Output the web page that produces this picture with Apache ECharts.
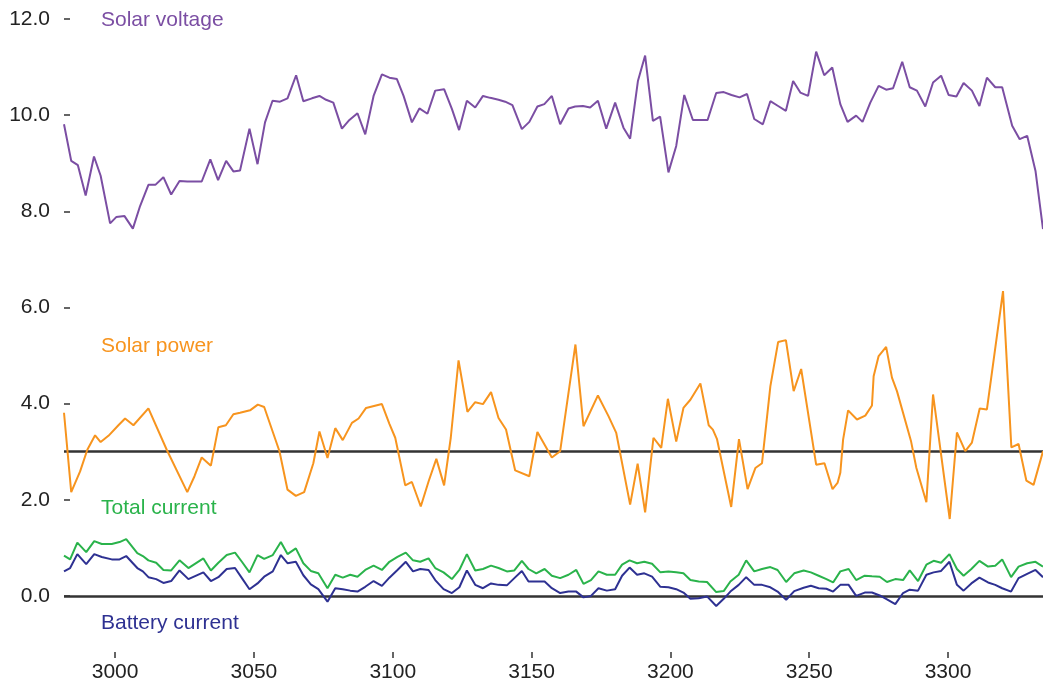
<!DOCTYPE html>
<html><head><meta charset="utf-8">
<script src="https://cdn.jsdelivr.net/npm/echarts@6.0.0/dist/echarts.min.js"></script>
<style>html,body{margin:0;padding:0;background:#fff}#c{width:1043px;height:684px}</style>
</head><body><div id="c"></div>
<script>
const voltageX = [2981.6,2984.2,2986.6,2989.4,2992.4,2994.8,2998.2,3000.4,3003.4,3006.4,3009.0,3012.0,3014.5,3017.4,3020.2,3023.2,3026.0,3028.6,3031.2,3034.3,3037.1,3040.0,3042.6,3045.0,3048.4,3051.3,3054.0,3056.7,3059.4,3062.1,3065.2,3067.8,3070.9,3073.6,3076.0,3078.6,3081.7,3084.4,3087.3,3090.1,3093.1,3096.1,3098.8,3101.5,3103.9,3106.9,3109.6,3112.5,3115.3,3118.5,3121.3,3123.9,3126.7,3129.7,3132.5,3135.1,3138.1,3140.5,3143.1,3146.5,3149.2,3152.1,3154.6,3157.3,3160.3,3163.3,3165.7,3168.5,3171.1,3173.9,3176.9,3180.1,3183.1,3185.5,3188.3,3190.9,3193.7,3196.3,3199.3,3202.1,3205.0,3208.1,3210.7,3213.4,3216.5,3219.2,3222.0,3224.9,3227.6,3230.2,3233.3,3236.0,3238.8,3241.6,3244.2,3246.8,3249.6,3252.5,3255.4,3258.3,3261.2,3263.8,3266.9,3269.2,3272.0,3275.0,3277.7,3280.2,3283.5,3286.2,3288.8,3291.8,3294.6,3297.5,3300.2,3303.0,3305.6,3308.6,3311.3,3314.0,3317.0,3319.5,3323.1,3325.8,3328.5,3331.5,3334.2];
const voltageY = [9.81,9.05,8.96,8.33,9.14,8.74,7.75,7.88,7.90,7.64,8.11,8.55,8.55,8.71,8.35,8.63,8.62,8.62,8.62,9.08,8.65,9.05,8.83,8.85,9.72,8.98,9.85,10.30,10.28,10.35,10.83,10.29,10.35,10.40,10.32,10.26,9.72,9.90,10.04,9.60,10.40,10.85,10.78,10.75,10.40,9.85,10.14,10.03,10.51,10.54,10.13,9.69,10.30,10.16,10.40,10.36,10.32,10.28,10.21,9.71,9.86,10.18,10.23,10.40,9.81,10.14,10.18,10.19,10.16,10.30,9.72,10.26,9.74,9.51,10.71,11.24,9.88,9.97,8.81,9.36,10.42,9.90,9.90,9.90,10.46,10.48,10.42,10.37,10.44,9.92,9.81,10.29,10.19,10.09,10.71,10.47,10.40,11.32,10.83,10.99,10.23,9.86,9.99,9.86,10.26,10.61,10.53,10.56,11.11,10.58,10.51,10.18,10.68,10.82,10.42,10.39,10.67,10.51,10.19,10.78,10.58,10.58,9.78,9.50,9.57,8.84,7.63];

const powerX = [2981.6,2984.2,2987.4,2990.0,2992.8,2994.8,2997.6,3001.2,3003.6,3006.6,3012.0,3018.6,3026.0,3028.6,3031.2,3034.5,3037.2,3039.9,3042.6,3045.0,3048.6,3051.4,3053.7,3059.2,3062.1,3065.1,3068.1,3071.4,3073.6,3076.5,3079.3,3082.0,3085.3,3087.7,3090.4,3096.1,3098.8,3100.9,3104.5,3106.9,3110.1,3112.9,3115.7,3118.5,3120.9,3123.7,3126.9,3129.7,3132.5,3135.4,3138.1,3140.8,3144.1,3149.2,3152.1,3157.3,3160.3,3165.8,3168.7,3173.9,3177.7,3180.5,3185.5,3188.2,3190.9,3193.9,3196.7,3199.1,3202.1,3204.7,3207.2,3210.8,3213.8,3215.3,3216.8,3221.9,3224.7,3227.8,3230.6,3233.0,3236.0,3238.8,3241.6,3244.4,3247.1,3252.5,3255.5,3258.4,3260.2,3261.2,3262.2,3264.0,3267.2,3270.2,3272.6,3273.2,3275.0,3277.7,3279.8,3281.6,3286.7,3288.6,3292.2,3294.6,3300.6,3303.2,3306.2,3308.6,3311.4,3314.0,3319.8,3322.8,3325.4,3328.2,3330.8,3334.2];
const powerY = [3.81,2.16,2.59,3.04,3.34,3.20,3.33,3.55,3.69,3.55,3.90,3.04,2.16,2.49,2.88,2.71,3.51,3.55,3.78,3.81,3.86,3.98,3.93,3.01,2.21,2.08,2.16,2.76,3.42,2.87,3.49,3.24,3.60,3.69,3.91,3.99,3.58,3.29,2.30,2.37,1.86,2.38,2.85,2.30,3.29,4.90,3.83,4.03,3.99,4.24,3.70,3.46,2.61,2.49,3.41,2.88,3.01,5.23,3.53,4.17,3.74,3.39,1.90,2.75,1.74,3.29,3.08,4.10,3.21,3.91,4.08,4.42,3.55,3.46,3.26,1.85,3.26,2.22,2.66,2.76,4.36,5.28,5.32,4.26,4.72,2.73,2.76,2.22,2.35,2.56,3.25,3.86,3.67,3.75,3.96,4.57,4.99,5.18,4.54,4.26,3.21,2.66,1.95,4.19,1.60,3.40,3.01,3.19,3.90,3.88,6.34,3.09,3.16,2.40,2.31,3.01];

const currentX = [2981.6,2983.8,2986.4,2989.6,2992.5,2995.2,2998.8,3001.6,3004.0,3008.0,3010.0,3012.0,3014.8,3017.4,3020.2,3023.2,3026.4,3031.8,3034.5,3037.2,3040.2,3043.2,3045.8,3048.4,3051.3,3053.7,3056.8,3059.7,3062.1,3065.1,3067.8,3070.5,3073.2,3076.5,3079.3,3082.0,3084.7,3087.3,3090.1,3093.1,3096.1,3098.8,3101.7,3104.7,3107.3,3109.9,3112.9,3115.3,3118.3,3121.3,3124.0,3126.7,3129.7,3132.5,3135.4,3138.1,3141.1,3143.8,3146.5,3148.9,3151.7,3154.7,3157.3,3160.3,3163.3,3166.1,3168.7,3171.4,3174.1,3177.1,3180.1,3182.6,3185.3,3188.0,3190.6,3193.4,3196.4,3199.3,3202.1,3204.7,3207.2,3210.2,3213.2,3216.5,3219.2,3221.6,3224.6,3227.3,3230.2,3233.0,3236.0,3238.6,3241.7,3244.6,3248.0,3250.6,3253.4,3256.2,3258.6,3261.2,3264.2,3266.9,3270.0,3272.6,3275.4,3278.0,3281.0,3283.8,3286.2,3289.2,3292.2,3294.8,3297.5,3300.5,3303.2,3305.6,3308.4,3311.3,3314.4,3317.0,3319.5,3322.7,3325.4,3328.5,3331.5,3334.2];
const totalCurrent = [0.84,0.76,1.11,0.91,1.14,1.08,1.08,1.12,1.18,0.89,0.83,0.74,0.69,0.54,0.53,0.74,0.58,0.78,0.53,0.69,0.85,0.90,0.70,0.49,0.85,0.77,0.85,1.12,0.87,0.99,0.68,0.52,0.47,0.16,0.44,0.38,0.44,0.40,0.54,0.63,0.54,0.71,0.81,0.90,0.74,0.71,0.78,0.58,0.49,0.35,0.54,0.87,0.53,0.56,0.63,0.58,0.51,0.53,0.73,0.56,0.47,0.56,0.42,0.37,0.44,0.54,0.25,0.33,0.51,0.44,0.44,0.65,0.74,0.68,0.71,0.67,0.49,0.51,0.49,0.47,0.33,0.30,0.29,0.08,0.10,0.30,0.44,0.74,0.51,0.56,0.60,0.54,0.29,0.47,0.53,0.49,0.42,0.35,0.28,0.51,0.56,0.33,0.42,0.41,0.40,0.29,0.35,0.33,0.53,0.31,0.65,0.73,0.69,0.87,0.56,0.42,0.56,0.73,0.61,0.63,0.76,0.39,0.61,0.68,0.71,0.61];
const batteryCurrent = [0.51,0.58,0.87,0.66,0.87,0.81,0.76,0.76,0.83,0.58,0.51,0.39,0.35,0.27,0.31,0.53,0.35,0.49,0.31,0.39,0.56,0.58,0.36,0.14,0.26,0.40,0.51,0.85,0.68,0.71,0.43,0.24,0.14,-0.12,0.16,0.14,0.11,0.09,0.19,0.31,0.21,0.38,0.54,0.71,0.51,0.56,0.54,0.33,0.14,0.06,0.18,0.53,0.23,0.16,0.26,0.23,0.22,0.37,0.52,0.30,0.30,0.30,0.16,0.06,0.09,0.09,-0.03,0.00,0.16,0.11,0.14,0.42,0.59,0.44,0.47,0.40,0.19,0.18,0.14,0.07,-0.06,-0.05,-0.01,-0.21,-0.06,0.09,0.23,0.39,0.23,0.23,0.18,0.09,-0.08,0.10,0.17,0.21,0.16,0.15,0.09,0.23,0.23,0.00,0.07,0.07,0.01,-0.07,-0.17,0.06,0.13,0.11,0.44,0.49,0.52,0.71,0.23,0.11,0.26,0.38,0.28,0.23,0.16,0.09,0.37,0.46,0.54,0.39];

const xTicks = [3000,3050,3100,3150,3200,3250,3300];
const yTicks = [0,2,4,6,8,10,12];
const refLines = [0,3];
const names = ['Solar voltage','Solar power','Total current','Battery current'];

const C = {volt:'#7b4ea3', power:'#f7941e', total:'#2ab34b', batt:'#2e3192', axis:'#333333', text:'#222222'};
const FONT = '"Liberation Sans", Arimo, Arial, Helvetica, sans-serif';

function pairs(xs, ys){ const n=Math.min(xs.length, ys.length); const out=[]; for(let i=0;i<n;i++) out.push([xs[i], ys[i]]); return out; }
function lineSeries(name, data, color, z){
  return {name, type:'line', data, showSymbol:false, symbol:'none', z,
    lineStyle:{color, width:2}, itemStyle:{color}, emphasis:{disabled:true}};
}

const chart = echarts.init(document.getElementById('c'), null, {renderer:'canvas'});
const batt = lineSeries(names[3], pairs(currentX, batteryCurrent), C.batt, 3);
batt.markLine = {symbol:['none','none'], silent:true, animation:false, z:1,
  label:{show:false}, lineStyle:{color:C.axis, width:2.5, type:'solid'},
  emphasis:{disabled:true},
  data: refLines.map(v=>({yAxis:v}))};

chart.setOption({
  animation:false,
  backgroundColor:'#ffffff',
  grid:{left:64, right:0, top:19, bottom:40, containLabel:false, outerBoundsMode:'none'},
  xAxis:{type:'value', min:2981.6, max:3334.2, offset:8,
    axisLine:{show:false, onZero:false}, splitLine:{show:false},
    axisTick:{show:true, customValues:xTicks, length:6, lineStyle:{color:C.axis, width:1.5}},
    axisLabel:{customValues:xTicks, formatter:v=>String(Math.round(v)), fontSize:21, color:C.text, margin:10, fontFamily:FONT}},
  yAxis:{type:'value', min:-1, max:12,
    axisLine:{show:false}, splitLine:{show:false},
    axisTick:{show:true, inside:true, customValues:yTicks, length:6, lineStyle:{color:C.axis, width:1.5}},
    axisLabel:{customValues:yTicks, formatter:v=>Number(v).toFixed(1), fontSize:21, color:C.text, margin:14, fontFamily:FONT}},
  graphic:[
    {type:'text', x:101, y:20, style:{text:names[0], fill:C.volt, font:'21px '+FONT, verticalAlign:'middle', textVerticalAlign:'middle'}},
    {type:'text', x:101, y:346, style:{text:names[1], fill:C.power, font:'21px '+FONT, verticalAlign:'middle', textVerticalAlign:'middle'}},
    {type:'text', x:101, y:508, style:{text:names[2], fill:C.total, font:'21px '+FONT, verticalAlign:'middle', textVerticalAlign:'middle'}},
    {type:'text', x:101, y:623, style:{text:names[3], fill:C.batt, font:'21px '+FONT, verticalAlign:'middle', textVerticalAlign:'middle'}}
  ],
  series:[
    batt,
    lineSeries(names[2], pairs(currentX, totalCurrent), C.total, 4),
    lineSeries(names[1], pairs(powerX, powerY), C.power, 5),
    lineSeries(names[0], pairs(voltageX, voltageY), C.volt, 6)
  ]
});
</script></body></html>
